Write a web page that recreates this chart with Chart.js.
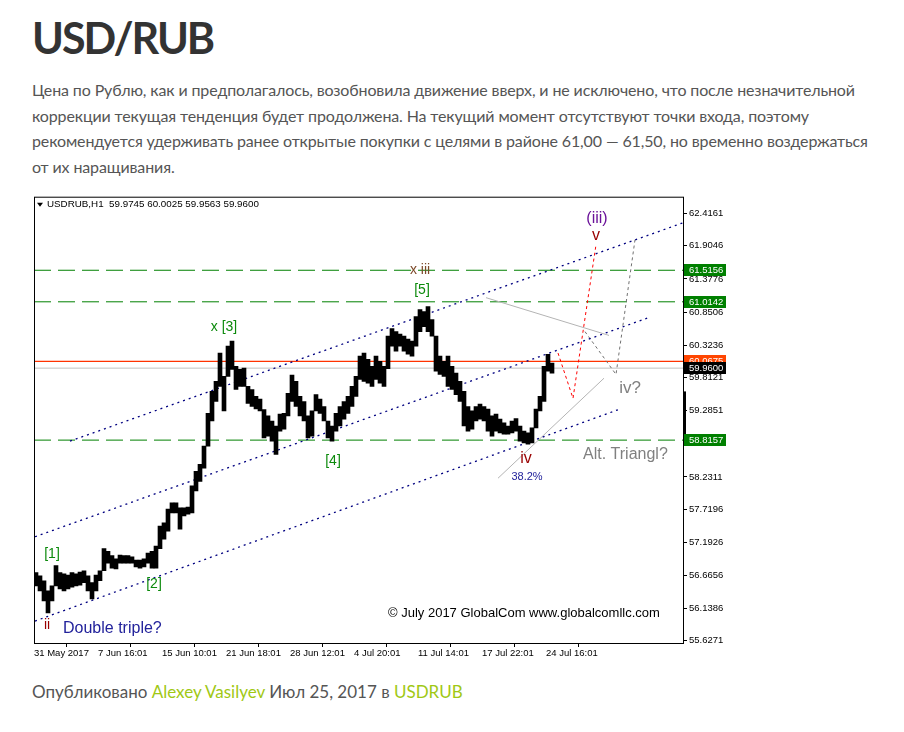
<!DOCTYPE html>
<html>
<head>
<meta charset="utf-8">
<script src="https://cdn.jsdelivr.net/npm/chart.js@4.4.0/dist/chart.umd.min.js"></script>
<style>
  html, body { margin: 0; padding: 0; background: #fff; }
  body { width: 904px; height: 732px; position: relative; overflow: hidden; font-family: Lato, "Open Sans", sans-serif; }
  #title { position: absolute; left: 32px; top: 12px; font-size: 43px; letter-spacing: -2px; font-weight: 700; color: #333; line-height: 52px; }
  .ln { position: absolute; left: 32px; font-size: 16px; letter-spacing: -0.13px; line-height: 20px; color: #555; white-space: nowrap; }
  .ln a { color: #a0c814; text-decoration: none; }
  #foot { font-size: 17px; letter-spacing: 0; }
  #wrap { position: absolute; left: 30px; top: 190px; width: 705px; height: 475px; }
</style>
</head>
<body>
<div id="title">USD/RUB</div>
<div class="ln" style="top:80px">Цена по Рублю, как и предполагалось, возобновила движение вверх, и не исключено, что после незначительной</div>
<div class="ln" style="top:106px">коррекции текущая тенденция будет продолжена. На текущий момент отсутствуют точки входа, поэтому</div>
<div class="ln" style="top:131px">рекомендуется удерживать ранее открытые покупки с целями в районе 61,00 — 61,50, но временно воздержаться</div>
<div class="ln" style="top:157px">от их наращивания.</div>
<div id="wrap"><canvas id="chart"></canvas></div>
<div class="ln" id="foot" style="top:682px">Опубликовано <a>Alexey Vasilyev</a> Июл 25, 2017 в <a>USDRUB</a></div>

<script>
// USDRUB H1 – one bar per ~4 px of the original, low / high
const lows = [
  56.50, 56.42, 56.26, 56.07, 56.26, 56.50, 56.45, 56.42, 56.45, 56.48,
  56.50, 56.51, 56.55, 56.42, 56.29, 56.42, 56.58, 56.74, 56.86, 56.78,
  56.77, 56.86, 56.86, 56.86, 56.86, 56.80, 56.78, 56.80, 56.86, 56.78,
  56.78, 57.09, 57.24, 57.37, 57.66, 57.66, 57.40, 57.61, 57.64, 57.66,
  58.01, 58.16, 58.37, 58.72, 59.12, 59.43, 59.67, 59.28, 59.83, 59.94,
  59.62, 59.67, 59.67, 59.40, 59.35, 59.31, 59.28, 58.85, 58.88, 58.80,
  58.59, 58.96, 58.99, 59.20, 59.43, 59.35, 59.20, 59.12, 58.85, 58.88,
  59.28, 59.24, 59.12, 58.85, 58.80, 58.96, 59.04, 59.15, 59.24, 59.35,
  59.51, 59.78, 59.75, 59.72, 59.67, 59.78, 59.72, 59.67, 59.95, 60.31,
  60.23, 60.31, 60.23, 60.18, 60.15, 60.31, 60.54, 60.62, 60.54, 60.47,
  59.91, 59.86, 59.83, 59.67, 59.62, 59.54, 59.43, 59.04, 58.96, 58.99,
  59.12, 59.15, 59.12, 58.96, 58.88, 58.96, 58.93, 58.91, 58.91, 58.93,
  58.96, 58.80, 58.77, 58.75, 58.77, 59.01, 59.28, 59.43, 59.91, 59.88
];
const highs = [
  56.71, 56.66, 56.58, 56.42, 56.50, 56.82, 56.71, 56.69, 56.67, 56.71,
  56.69, 56.72, 56.74, 56.66, 56.55, 56.67, 56.74, 57.09, 57.05, 56.98,
  56.93, 56.99, 56.98, 56.98, 56.96, 56.91, 56.91, 56.93, 57.02, 57.05,
  57.13, 57.45, 57.50, 57.72, 57.82, 57.82, 57.74, 57.74, 57.75, 58.09,
  58.32, 58.43, 58.72, 59.24, 59.59, 59.75, 60.20, 59.83, 60.31, 60.39,
  59.99, 59.94, 59.96, 59.67, 59.62, 59.51, 59.47, 59.30, 59.20, 59.12,
  59.04, 59.23, 59.24, 59.56, 59.85, 59.75, 59.51, 59.43, 59.20, 59.28,
  59.54, 59.47, 59.35, 59.12, 59.04, 59.24, 59.35, 59.43, 59.51, 59.67,
  59.83, 60.15, 60.20, 60.10, 59.99, 60.15, 60.07, 59.99, 60.47, 60.59,
  60.54, 60.50, 60.47, 60.42, 60.39, 60.78, 60.89, 60.86, 60.94, 60.73,
  60.47, 60.15, 60.07, 60.15, 59.99, 59.88, 59.75, 59.59, 59.35, 59.28,
  59.35, 59.39, 59.35, 59.31, 59.20, 59.23, 59.15, 59.09, 59.04, 59.12,
  59.16, 59.04, 58.96, 58.93, 59.01, 59.31, 59.51, 59.99, 60.18, 60.04
];

// axis ticks
const xTickBars = [-0.5, 15.5, 31.5, 47.5, 63.5, 79.5, 95.5, 111.5, 127.5];
const xTickLabels = ['31 May 2017', '7 Jun 16:01', '15 Jun 10:01', '21 Jun 18:01', '28 Jun 12:01',
  '4 Jul 20:01', '11 Jul 14:01', '17 Jul 22:01', '24 Jul 16:01'];
const yTicks = [62.4161, 61.9046, 61.3776, 60.8506, 60.3236, 59.8121, 59.2851,
  58.7581, 58.2311, 57.7196, 57.1926, 56.6656, 56.1386, 55.6271];

// levels
const greenLevels = [61.5156, 61.0142, 58.8157];
const bidLevel = 59.9600;
const askLevel = 60.0675;

// drawn objects: [bar, price]
const upperChannel = [[8.5, 58.80], [161.75, 62.27]];
const middleChannel = [[-0.25, 57.28], [153.5, 60.77]];
const lowerChannel = [[-0.25, 55.94], [146, 59.31]];
const grayLineTop = [[112.5, 61.08], [143.25, 60.48]];
const grayLineBottom = [[115.5, 58.21], [142, 59.80]];
const redPath = [[130.5, 60.20], [134.25, 59.48], [140, 61.92]];
const grayPath = [[137.25, 60.54], [145, 59.86], [149.75, 62.00]];

const xMin = -0.5, xMax = 161.75;
const pts = arr => arr.map(p => ({ x: p[0], y: p[1] }));
const flat = v => [{ x: xMin, y: v }, { x: xMax, y: v }];

function lineSet(data, color, dash, width, order) {
  return { type: 'line', data, borderColor: color, borderDash: dash, borderWidth: width,
    pointRadius: 0, fill: false, tension: 0, order };
}

const FONT = "'Liberation Sans', Arial, sans-serif";

const labels = [
  ['(iii)', 140.25, 62.34, '#6a1199', 16, 'center'],
  ['v', 140, 62.07, '#990000', 16, 'center'],
  ['x iii', 96, 61.51, '#7d4a2a', 14, 'center'],
  ['[5]', 96.5, 61.20, '#0c8a0c', 14, 'center'],
  ['x [3]', 47, 60.61, '#0c8a0c', 14, 'center'],
  ['[4]', 74.25, 58.48, '#0c8a0c', 14, 'center'],
  ['[1]', 4, 57.01, '#0c8a0c', 14, 'center'],
  ['[2]', 29.5, 56.52, '#0c8a0c', 14, 'center'],
  ['ii', 2.75, 55.87, '#990000', 14, 'center'],
  ['Double triple?', 6.75, 55.82, '#22229b', 16, 'left'],
  ['iv', 122.5, 58.53, '#990000', 16, 'center'],
  ['38.2%', 122.75, 58.23, '#22229b', 11, 'center'],
  ['iv?', 148.5, 59.64, '#808080', 17, 'center'],
  ['Alt. Triangl?', 136.75, 58.59, '#808080', 16, 'left'],
  ['© July 2017 GlobalCom www.globalcomllc.com', 88, 56.06, '#000', 13, 'left']
];

const overlay = {
  id: 'overlay',
  afterDraw(chart) {
    const { ctx, chartArea: a, scales: { x, y } } = chart;
    ctx.save();
    // frame
    ctx.strokeStyle = '#000';
    ctx.lineWidth = 1;
    ctx.strokeRect(a.left + 0.5, a.top - 0.5, a.right - a.left, a.bottom - a.top + 1);

    // header
    ctx.fillStyle = '#000';
    ctx.beginPath();
    ctx.moveTo(a.left + 3, a.top + 5);
    ctx.lineTo(a.left + 9, a.top + 5);
    ctx.lineTo(a.left + 6, a.top + 9);
    ctx.closePath();
    ctx.fill();
    ctx.font = '9.8px ' + FONT;
    ctx.textBaseline = 'middle';
    ctx.textAlign = 'left';
    ctx.fillText('USDRUB,H1  59.9745 60.0025 59.9563 59.9600', a.left + 13, a.top + 7);

    // wave labels and notes
    labels.forEach(([t, lx, ly, c, s, al]) => {
      ctx.font = s + 'px ' + FONT;
      ctx.fillStyle = c;
      ctx.textAlign = al;
      ctx.fillText(t, x.getPixelForValue(lx), y.getPixelForValue(ly));
    });

    // marker on price axis
    const m1 = y.getPixelForValue(59.59), m2 = y.getPixelForValue(58.77);
    ctx.fillStyle = '#000';
    ctx.fillRect(a.right, m1, 3, m2 - m1);

    // price boxes on the axis
    const boxes = greenLevels.map(v => [v, '#008000'])
      .concat([[askLevel, '#ff4500'], [bidLevel, '#000']]);
    ctx.font = '9.5px ' + FONT;
    ctx.textAlign = 'left';
    boxes.forEach(([v, c]) => {
      const py = Math.round(y.getPixelForValue(v));
      ctx.fillStyle = c;
      ctx.fillRect(a.right + 1, py - 6, 42, 12);
      ctx.fillStyle = '#fff';
      ctx.fillText(v.toFixed(4), a.right + 6, py + 0.5);
    });
    ctx.restore();
  }
};

new Chart(document.getElementById('chart'), {
  type: 'bar',
  data: {
    datasets: [
      { type: 'bar', data: lows.map((lo, i) => ({ x: i, y: [lo, highs[i]] })),
        backgroundColor: '#000', borderWidth: 0, barPercentage: 1, categoryPercentage: 1, order: 0 },
      ...greenLevels.map(v => lineSet(flat(v), '#008000', [17, 7], 1, 5)),
      lineSet(flat(askLevel), '#ff3300', [], 1.2, 5),
      lineSet(flat(bidLevel), '#c0c0c0', [], 1, 5),
      lineSet(pts(upperChannel), '#000080', [2, 4], 1.3, 3),
      lineSet(pts(middleChannel), '#000080', [2, 4], 1.3, 3),
      lineSet(pts(lowerChannel), '#000080', [2, 4], 1.3, 3),
      lineSet(pts(grayLineTop), '#b4b4b4', [], 1, 3),
      lineSet(pts(grayLineBottom), '#b4b4b4', [], 1, 3),
      lineSet(pts(redPath), '#ff0000', [3, 3], 1, 3),
      lineSet(pts(grayPath), '#707070', [3, 3], 1, 3)
    ]
  },
  options: {
    responsive: true,
    maintainAspectRatio: false,
    animation: false,
    layout: { padding: { left: 4, top: 5, right: 0, bottom: 0 } },
    plugins: { legend: { display: false }, tooltip: { enabled: false } },
    scales: {
      x: {
        type: 'linear', min: xMin, max: xMax, offset: false,
        afterBuildTicks: s => { s.ticks = xTickBars.map(v => ({ value: v })); },
        afterFit: s => { s.height = 22; },
        ticks: { autoSkip: false, maxRotation: 0, align: 'start', padding: 1, color: '#000',
          font: { family: FONT, size: 9.5 }, callback: (v, i) => xTickLabels[i] },
        grid: { drawOnChartArea: false, drawTicks: true, tickLength: 4, color: '#000' },
        border: { display: false }
      },
      y: {
        position: 'right', min: 55.591, max: 62.669,
        afterBuildTicks: s => { s.ticks = yTicks.map(v => ({ value: v })); },
        afterFit: s => { s.width = 52; },
        ticks: { padding: 2, color: '#000', font: { family: FONT, size: 9.5 },
          callback: v => v.toFixed(4) },
        grid: { drawOnChartArea: false, drawTicks: true, tickLength: 4, color: '#000' },
        border: { display: false }
      }
    }
  },
  plugins: [overlay]
});
</script>
</body>
</html>
